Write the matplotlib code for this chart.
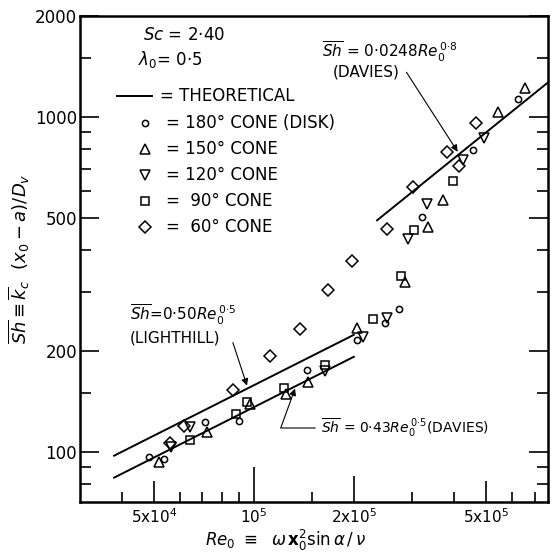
import numpy as np
import matplotlib
matplotlib.use("Agg")
import matplotlib.pyplot as plt

plt.rcParams['font.family'] = ['DejaVu Sans']
plt.rcParams['mathtext.fontset'] = 'dejavusans'

# ---- data ----
re_180 = [4.83e4, 5.36e4, 7.15e4, 9.0e4, 1.45e5, 2.04e5, 2.48e5, 2.74e5, 3.20e5, 4.56e5, 6.25e5]
sh_180 = [96.4, 95.1, 123, 124, 176, 216, 243, 267, 504, 797, 1129]

re_150 = [5.19e4, 7.23e4, 9.73e4, 1.25e5, 1.46e5, 2.04e5, 2.85e5, 3.34e5, 3.70e5, 5.44e5, 6.55e5]
sh_150 = [93.6, 115, 139, 149, 162, 234, 322, 469, 563, 1037, 1223]

re_120 = [5.65e4, 6.45e4, 1.64e5, 2.13e5, 2.52e5, 2.92e5, 3.31e5, 4.27e5, 4.94e5]
sh_120 = [103.7, 118.5, 174, 220, 251, 431, 550, 741, 864]

re_90 = [6.44e4, 8.87e4, 9.53e4, 1.23e5, 1.64e5, 2.28e5, 2.77e5, 3.03e5, 3.98e5]
sh_90 = [108.6, 130, 141, 155, 182, 249, 334, 460, 644]

re_60 = [5.61e4, 6.17e4, 8.66e4, 1.12e5, 1.38e5, 1.67e5, 1.98e5, 2.52e5, 3.01e5, 3.81e5, 4.15e5, 4.66e5]
sh_60 = [106.6, 119.6, 153, 193, 232, 304, 372, 462, 619, 788, 714, 958]

# theoretical lines: (coefficient, exponent, Re range)
lighthill = (0.50, 0.5, [3.8e4, 2.0e5])
davies_low = (0.43, 0.5, [3.8e4, 2.0e5])
davies_high = (0.0248, 0.8, [2.35e5, 7.7e5])

fig = plt.figure(figsize=(5.54, 5.57), dpi=100)
ax = fig.add_axes([80 / 554, 1 - 502 / 557, 468 / 554, 486 / 557])
ax.set_xscale('log')
ax.set_yscale('log')
ax.set_xlim(3.0e4, 7.68e5)
ax.set_ylim(70.9, 2000)

for c, n, rng in (lighthill, davies_low, davies_high):
    r = np.geomspace(rng[0], rng[1], 50)
    ax.plot(r, c * r ** n, color='black', lw=1.4)

mk = dict(linestyle='none', markerfacecolor='none', markeredgecolor='black', markeredgewidth=1.1)
ax.plot(re_180, sh_180, marker='o', markersize=4.5, **mk)
ax.plot(re_150, sh_150, marker='^', markersize=7, **mk)
ax.plot(re_120, sh_120, marker='v', markersize=7, **mk)
ax.plot(re_90, sh_90, marker='s', markersize=6, **mk)
ax.plot(re_60, sh_60, marker='D', markersize=6.5, **mk)

# axes styling
for s in ax.spines.values():
    s.set_linewidth(1.8)
ax.set_xticks([5e4, 1e5, 2e5, 5e5])
ax.set_xticklabels([r'5x10$^4$', r'10$^5$', r'2x10$^5$', r'5x10$^5$'], fontsize=11)
ax.set_xticks([4e4, 6e4, 7e4, 8e4, 9e4, 1.5e5, 3e5, 4e5, 6e5, 7e5], minor=True)
ax.xaxis.set_minor_formatter(plt.NullFormatter())
ax.set_yticks([100, 200, 500, 1000, 2000])
ax.set_yticklabels(['100', '200', '500', '1000', '2000'], fontsize=12)
ax.set_yticks([80, 90, 150, 300, 400, 600, 700, 800, 900, 1500], minor=True)
ax.yaxis.set_minor_formatter(plt.NullFormatter())
ax.tick_params(which='both', direction='in', width=1.2, right=True, top=False)
ax.tick_params(which='major', axis='y', length=14, pad=2)
ax.tick_params(which='minor', axis='y', length=8)
ax.tick_params(which='major', axis='x', length=15, pad=4)
ax.tick_params(which='minor', axis='x', length=7)
for t in ax.xaxis.get_major_ticks():
    if abs(t.get_loc() - 1e5) < 1:
        t.tick1line.set_markersize(25)
    elif abs(t.get_loc() - 2e5) < 1:
        t.tick1line.set_markersize(19)

ax.set_xlabel(r'$Re_0\ \equiv\ \ \omega\, \mathbf{x}_0^{2} \sin\alpha\,/\,\nu$', fontsize=12)
ax.xaxis.set_label_coords(0.44, -0.054)
ax.set_ylabel(r'$\overline{Sh} \equiv \overline{k}_c\ \ (x_0 - a)/D_v$', fontsize=13, labelpad=2)

# legend block
tx = dict(transform=ax.transAxes, fontsize=12, va='center')
def axy(px, py):
    return ((px - 80) / 468, (502 - py) / 486)

ax.text(*axy(143, 35), r'$Sc$ = 2·40', **tx)
ax.text(*axy(138, 60), r'$\lambda_0$= 0·5', **tx)
x0, y0 = axy(117, 96)
x1, _ = axy(152, 96)
ax.plot([x0, x1], [y0, y0], transform=ax.transAxes, color='black', lw=1.4)
ax.text(*axy(160, 96), '= THEORETICAL', **tx)
legend_rows = [('o', 4.5, '= 180° CONE (DISK)'), ('^', 7, '= 150° CONE'), ('v', 7, '= 120° CONE'),
               ('s', 6, '=  90° CONE'), ('D', 6.5, '=  60° CONE')]
for i, (m, ms, lab) in enumerate(legend_rows):
    py = 123 + i * 26
    ax.plot(*axy(145, py), transform=ax.transAxes, marker=m, markersize=ms, **mk)
    ax.text(*axy(166, py), lab, **tx)

# annotations
ta = dict(transform=ax.transAxes, fontsize=11, va='center')
ax.text(*axy(322, 52), r'$\overline{Sh}$ = 0·0248$Re_0^{\,0·8}$', **ta)
ax.text(*axy(333, 72), '(DAVIES)', **ta)
ax.annotate('', xy=(4.15e5, 0.0248 * 4.15e5 ** 0.8), xycoords='data',
            xytext=axy(405, 70), textcoords='axes fraction',
            arrowprops=dict(arrowstyle='-|>', color='black', lw=0.8, mutation_scale=10))

ax.text(*axy(130, 315), r'$\overline{Sh}$=0·50$Re_0^{\,0·5}$', **ta)
ax.text(*axy(130, 338), '(LIGHTHILL)', **ta)
ax.annotate('', xy=(9.6e4, 0.5 * 9.6e4 ** 0.5), xycoords='data',
            xytext=axy(232, 340), textcoords='axes fraction',
            arrowprops=dict(arrowstyle='-|>', color='black', lw=0.8, mutation_scale=10))

ax.text(*axy(321, 428), r'$\overline{Sh}$ = 0·43$Re_0^{\,0·5}$(DAVIES)', fontsize=10,
        transform=ax.transAxes, va='center')
ax.annotate('', xy=(1.34e5, 0.43 * 1.34e5 ** 0.5), xycoords='data',
            xytext=axy(318, 428), textcoords='axes fraction',
            arrowprops=dict(arrowstyle='-|>', color='black', lw=0.8, mutation_scale=10,
                            connectionstyle='angle,angleA=0,angleB=70,rad=0'))

fig.savefig('out.png', dpi=100)
